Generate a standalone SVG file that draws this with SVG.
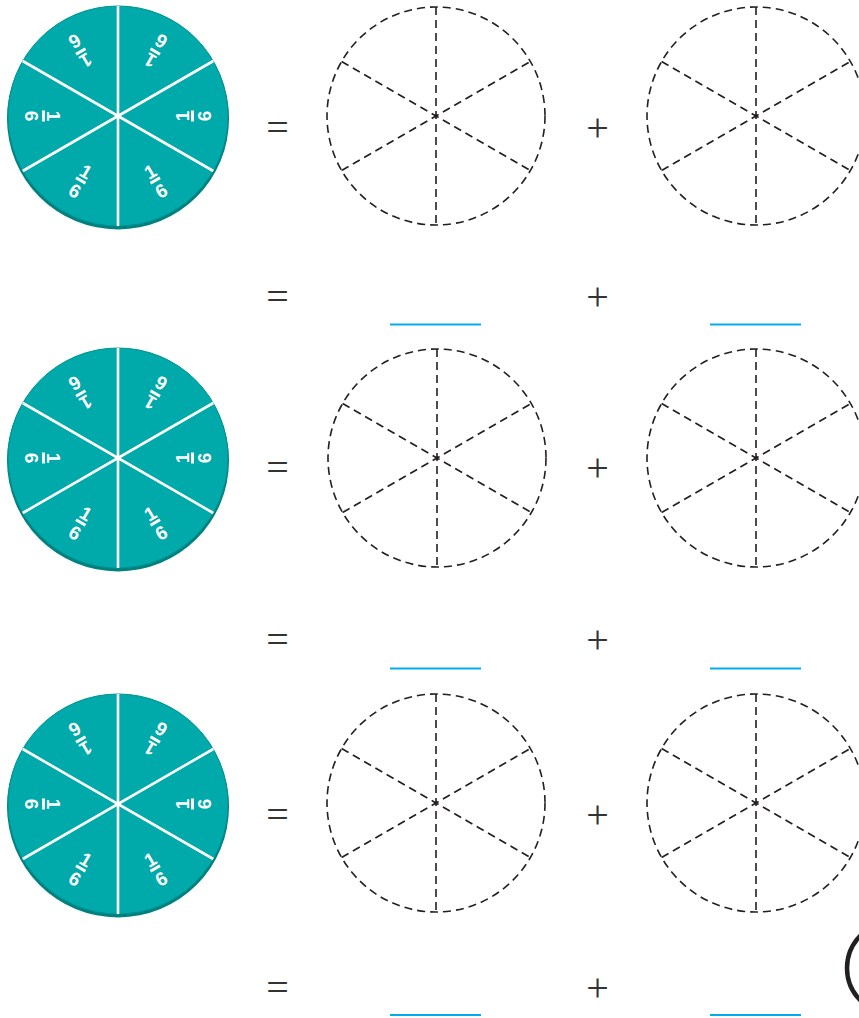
<svg xmlns="http://www.w3.org/2000/svg" width="859" height="1018" viewBox="0 0 859 1018">
<style>
.rim{fill:#00807f}
.disc{fill:#00a9aa;stroke:#00938f;stroke-width:1}
.wl{stroke:#fff;stroke-width:2.6;fill:none}
.fr{font-family:"Liberation Sans",Arial,sans-serif;font-weight:bold;font-size:19px;fill:#fff;text-anchor:middle}
.bar{fill:#fff}
.dc{fill:none;stroke:#231f20;stroke-width:1.6;stroke-dasharray:8 5}
.op{font-family:"Liberation Serif","Times New Roman",serif;font-size:40px;fill:#333;text-anchor:middle}
.ul{stroke:#00aeef;stroke-width:2.2}
</style>
<defs>
<g id="tealBase">
<circle class="rim" r="111" cy="2.5"/>
<circle class="disc" r="110"/>
<path class="wl" d="M0,-110V110M-95.3,-55L95.3,55M-95.3,55L95.3,-55"/>
</g>
<g id="dashBase">
<circle class="dc" r="109"/>
<path class="dc" d="M0,-109V109M-94.4,-54.5L94.4,54.5M-94.4,54.5L94.4,-54.5"/>
</g>
</defs>

<g id="wheel1" transform="translate(118,116)">
<use href="#tealBase"/>
<g transform="translate(76,0) rotate(-90)"><text class="fr" y="-5">1</text><rect class="bar" x="-5.5" y="-3" width="11" height="3"/><text class="fr" y="17">6</text></g>
<g transform="translate(38,65.8) rotate(-30)"><text class="fr" y="-5">1</text><rect class="bar" x="-5.5" y="-3" width="11" height="3"/><text class="fr" y="17">6</text></g>
<g transform="translate(-38,65.8) rotate(30)"><text class="fr" y="-5">1</text><rect class="bar" x="-5.5" y="-3" width="11" height="3"/><text class="fr" y="17">6</text></g>
<g transform="translate(-76,0) rotate(90)"><text class="fr" y="-5">1</text><rect class="bar" x="-5.5" y="-3" width="11" height="3"/><text class="fr" y="17">6</text></g>
<g transform="translate(-38,-65.8) rotate(150)"><text class="fr" y="-5">1</text><rect class="bar" x="-5.5" y="-3" width="11" height="3"/><text class="fr" y="17">6</text></g>
<g transform="translate(38,-65.8) rotate(210)"><text class="fr" y="-5">1</text><rect class="bar" x="-5.5" y="-3" width="11" height="3"/><text class="fr" y="17">6</text></g>
</g>
<g id="wheel2" transform="translate(118,458)">
<use href="#tealBase"/>
<g transform="translate(76,0) rotate(-90)"><text class="fr" y="-5">1</text><rect class="bar" x="-5.5" y="-3" width="11" height="3"/><text class="fr" y="17">6</text></g>
<g transform="translate(38,65.8) rotate(-30)"><text class="fr" y="-5">1</text><rect class="bar" x="-5.5" y="-3" width="11" height="3"/><text class="fr" y="17">6</text></g>
<g transform="translate(-38,65.8) rotate(30)"><text class="fr" y="-5">1</text><rect class="bar" x="-5.5" y="-3" width="11" height="3"/><text class="fr" y="17">6</text></g>
<g transform="translate(-76,0) rotate(90)"><text class="fr" y="-5">1</text><rect class="bar" x="-5.5" y="-3" width="11" height="3"/><text class="fr" y="17">6</text></g>
<g transform="translate(-38,-65.8) rotate(150)"><text class="fr" y="-5">1</text><rect class="bar" x="-5.5" y="-3" width="11" height="3"/><text class="fr" y="17">6</text></g>
<g transform="translate(38,-65.8) rotate(210)"><text class="fr" y="-5">1</text><rect class="bar" x="-5.5" y="-3" width="11" height="3"/><text class="fr" y="17">6</text></g>
</g>
<g id="wheel3" transform="translate(118,804)">
<use href="#tealBase"/>
<g transform="translate(76,0) rotate(-90)"><text class="fr" y="-5">1</text><rect class="bar" x="-5.5" y="-3" width="11" height="3"/><text class="fr" y="17">6</text></g>
<g transform="translate(38,65.8) rotate(-30)"><text class="fr" y="-5">1</text><rect class="bar" x="-5.5" y="-3" width="11" height="3"/><text class="fr" y="17">6</text></g>
<g transform="translate(-38,65.8) rotate(30)"><text class="fr" y="-5">1</text><rect class="bar" x="-5.5" y="-3" width="11" height="3"/><text class="fr" y="17">6</text></g>
<g transform="translate(-76,0) rotate(90)"><text class="fr" y="-5">1</text><rect class="bar" x="-5.5" y="-3" width="11" height="3"/><text class="fr" y="17">6</text></g>
<g transform="translate(-38,-65.8) rotate(150)"><text class="fr" y="-5">1</text><rect class="bar" x="-5.5" y="-3" width="11" height="3"/><text class="fr" y="17">6</text></g>
<g transform="translate(38,-65.8) rotate(210)"><text class="fr" y="-5">1</text><rect class="bar" x="-5.5" y="-3" width="11" height="3"/><text class="fr" y="17">6</text></g>
</g>

<g id="dash1a"><use href="#dashBase" x="436" y="116"/></g>
<g id="dash1b"><use href="#dashBase" x="756" y="116"/></g>
<g id="dash2a"><use href="#dashBase" x="437" y="458"/></g>
<g id="dash2b"><use href="#dashBase" x="756" y="458"/></g>
<g id="dash3a"><use href="#dashBase" x="436" y="803"/></g>
<g id="dash3b"><use href="#dashBase" x="756" y="803"/></g>

<g id="operators">
<text class="op" x="277.5" y="140.5">=</text>
<text class="op" x="597.5" y="140.5">+</text>
<text class="op" x="277.5" y="309.5">=</text>
<text class="op" x="597.5" y="309.5">+</text>
<text class="op" x="277.5" y="480.5">=</text>
<text class="op" x="597.5" y="480.5">+</text>
<text class="op" x="277.5" y="652.5">=</text>
<text class="op" x="597.5" y="652.5">+</text>
<text class="op" x="277.5" y="827.5">=</text>
<text class="op" x="597.5" y="827.5">+</text>
<text class="op" x="277.5" y="1000.5">=</text>
<text class="op" x="597.5" y="1000.5">+</text>
</g>

<g id="blanks">
<line class="ul" x1="390" y1="324.5" x2="481" y2="324.5"/>
<line class="ul" x1="710" y1="324.5" x2="801" y2="324.5"/>
<line class="ul" x1="390" y1="668.5" x2="481" y2="668.5"/>
<line class="ul" x1="710" y1="668.5" x2="801" y2="668.5"/>
<line class="ul" x1="390" y1="1015" x2="481" y2="1015"/>
<line class="ul" x1="710" y1="1015" x2="801" y2="1015"/>
</g>

<g id="pageMark">
<circle cx="893" cy="968" r="46" fill="none" stroke="#231f20" stroke-width="4.5"/>
</g>
</svg>
